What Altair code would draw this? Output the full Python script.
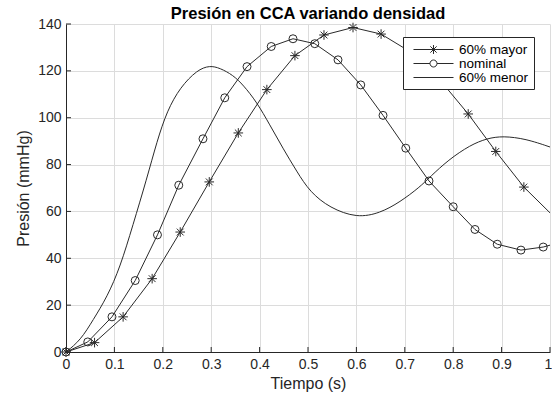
import altair as alt
import pandas as pd

# --- chart text -------------------------------------------------------------
title_text = "Presión en CCA variando densidad"
x_title = "Tiempo (s)"
y_title = "Presión (mmHg)"
series_names = ["60% mayor", "nominal", "60% menor"]

# --- simulated pressure curves ---------------------------------------------
# density +60 % (samples drawn with asterisks)
t_mayor = [0, 0.059, 0.118, 0.178, 0.236, 0.296, 0.356, 0.415, 0.473, 0.533,
           0.593, 0.651, 0.710, 0.769, 0.831, 0.888, 0.946, 1.0]
p_mayor = [0, 4.0, 15.0, 31.3, 51.2, 72.6, 93.5, 112.0, 126.5, 135.3,
           138.5, 135.7, 128.3, 117.0, 101.6, 85.6, 70.4, 59.4]

# nominal density (samples drawn with circles)
t_nominal = [0, 0.045, 0.095, 0.143, 0.189, 0.233, 0.283, 0.328, 0.374, 0.424,
             0.469, 0.514, 0.562, 0.609, 0.655, 0.702, 0.750, 0.800, 0.845,
             0.891, 0.940, 0.986, 1.0]
p_nominal = [0, 4.3, 15.0, 30.5, 50.0, 71.2, 91.0, 108.5, 121.8, 130.4,
             133.7, 131.6, 124.7, 114.0, 101.0, 87.0, 73.0, 62.0, 52.3,
             46.0, 43.5, 44.8, 45.6]

# density -60 % (continuous curve, no markers)
t_menor = [0, 0.030, 0.056, 0.085, 0.112, 0.138, 0.167, 0.188, 0.209, 0.236,
           0.271, 0.297, 0.318, 0.345, 0.366, 0.394, 0.421, 0.448, 0.477,
           0.504, 0.545, 0.601, 0.649, 0.690, 0.731, 0.752, 0.790, 0.835,
           0.870, 0.903, 0.950, 1.0]
p_menor = [0, 5.0, 13.7, 23.5, 36.3, 54.0, 74.0, 90.0, 103.0, 113.0,
           120.4, 122.3, 121.2, 118.2, 114.0, 106.7, 97.0, 87.0, 77.0,
           68.3, 61.5, 57.2, 59.3, 64.0, 70.4, 74.7, 82.0, 88.3,
           91.2, 92.2, 91.0, 87.5]

x_ticks = [0, 0.1, 0.2, 0.3, 0.4, 0.5, 0.6, 0.7, 0.8, 0.9, 1]
y_ticks = [0, 20, 40, 60, 80, 100, 120, 140]

# --- layout / style ---------------------------------------------------------
W, H = 484, 328
FONT = "Liberation Sans"
INK = "#262626"
LINE = "#2a2a2a"
TICK_LEN = 5

# marker glyphs (unit coordinates, scaled by the symbol size)
ASTERISK = "M0,-1.2V1.2M-1.2,0H1.2M-0.85,-0.85L0.85,0.85M-0.85,0.85L0.85,-0.85"

# legend glyphs: a 40 px line sample with the series marker at its middle.
# Units are half the legend symbol width (7 px); the sample runs from
# -2 px to +38 px around the symbol centre, the marker sits at +18 px.
LEG_SIZE = 196
LEG_MAYOR = ("M-0.286,0H5.429M2.571,-0.64V0.64M1.931,0H3.211"
             "M2.119,-0.452L3.023,0.452M2.119,0.452L3.023,-0.452")
LEG_NOMINAL = ("M-0.286,0H2.071M3.071,0H5.429"
               "M2.071,0A0.5,0.5,0,1,1,3.071,0A0.5,0.5,0,1,1,2.071,0")
LEG_MENOR = "M-0.286,0H5.429"


def frame(name, t, p):
    return pd.DataFrame({"t": t, "p": p, "serie": name})


mayor = frame(series_names[0], t_mayor, p_mayor)
nominal = frame(series_names[1], t_nominal, p_nominal)
menor = frame(series_names[2], t_menor, p_menor)
sampled = pd.concat([mayor, nominal], ignore_index=True)
# the last row of each sampled series is only where the curve meets t = 1
markers = sampled[sampled["t"] < 0.999]

x_enc = alt.X(
    "t:Q",
    scale=alt.Scale(domain=[0, 1], nice=False, zero=False),
    axis=alt.Axis(
        values=x_ticks, format="~g", title=x_title, labelFlush=False,
        # keep the last label inside the canvas edge
        labelOffset=alt.ExprRef(expr="datum.value == 1 ? -2 : 0"),
        titleX=W / 2, titleY=31, titleBaseline="middle",
    ),
)
y_enc = alt.Y(
    "p:Q",
    scale=alt.Scale(domain=[0, 140], nice=False),
    axis=alt.Axis(
        values=y_ticks, format="d", title=y_title, labelFlush=False,
        titleX=-43, titleY=H / 2, titleAngle=270,
        titleAlign="center", titleBaseline="middle",
    ),
)

sampled_lines = alt.Chart(sampled).mark_line(
    color=LINE, strokeWidth=1
).encode(x=x_enc, y=y_enc, detail="serie:N")

smooth_line = alt.Chart(menor).mark_line(
    color=LINE, strokeWidth=1, interpolate="basis"
).encode(x="t:Q", y="p:Q")

marker_pts = alt.Chart(markers).mark_point(
    filled=False, color=LINE, strokeWidth=1, size=64, opacity=1
).encode(
    x="t:Q",
    y="p:Q",
    shape=alt.Shape(
        "serie:N",
        scale=alt.Scale(domain=series_names[:2], range=[ASTERISK, "circle"]),
        legend=None,
    ),
)

# legend only: no rows survive the filter, the scale domain fills the legend
legend_layer = alt.Chart(pd.DataFrame({"serie": series_names})).transform_filter(
    "false"
).mark_point(filled=False, color=LINE, strokeWidth=1, opacity=1).encode(
    shape=alt.Shape(
        "serie:N",
        scale=alt.Scale(domain=series_names,
                        range=[LEG_MAYOR, LEG_NOMINAL, LEG_MENOR]),
        legend=alt.Legend(
            title=None, orient="none", legendX=337, legendY=13, padding=5,
            fillColor="white", strokeColor=INK,
            labelFont=FONT, labelFontSize=13.5, labelColor="black",
            labelOffset=36, symbolOffset=0, rowPadding=-1,
            symbolSize=LEG_SIZE, symbolStrokeWidth=1,
            symbolStrokeColor=LINE, symbolFillColor="transparent",
        ),
    ),
)

# inward tick marks along the left and bottom axes
x_tick_marks = alt.Chart(pd.DataFrame({"t": x_ticks})).mark_rule(
    color=INK, strokeWidth=1
).encode(x="t:Q", y=alt.value(H), y2=alt.value(H - TICK_LEN))
y_tick_marks = alt.Chart(pd.DataFrame({"p": y_ticks})).mark_rule(
    color=INK, strokeWidth=1
).encode(y="p:Q", x=alt.value(0), x2=alt.value(TICK_LEN))

chart = alt.layer(
    sampled_lines, smooth_line, marker_pts, legend_layer,
    x_tick_marks, y_tick_marks,
).resolve_scale(
    shape="independent"
).properties(
    width=W, height=H,
    title=alt.TitleParams(
        title_text, font=FONT, fontSize=16.5, fontWeight="bold",
        color="black", anchor="middle", offset=2, dy=7,
    ),
    autosize=alt.AutoSizeParams(type="none"),
    padding={"left": 66, "top": 24, "right": 2, "bottom": 43},
).configure_view(
    stroke=None
).configure_axis(
    grid=True, gridColor="#dcdcdc", gridWidth=1,
    domainColor=INK, domainWidth=1, ticks=False,
    labelFont=FONT, labelFontSize=14, labelColor=INK, labelPadding=5,
    titleFont=FONT, titleFontSize=16, titleFontWeight="normal", titleColor=INK,
)

chart.save("out.html", embed_options={"renderer": "svg", "actions": False})
